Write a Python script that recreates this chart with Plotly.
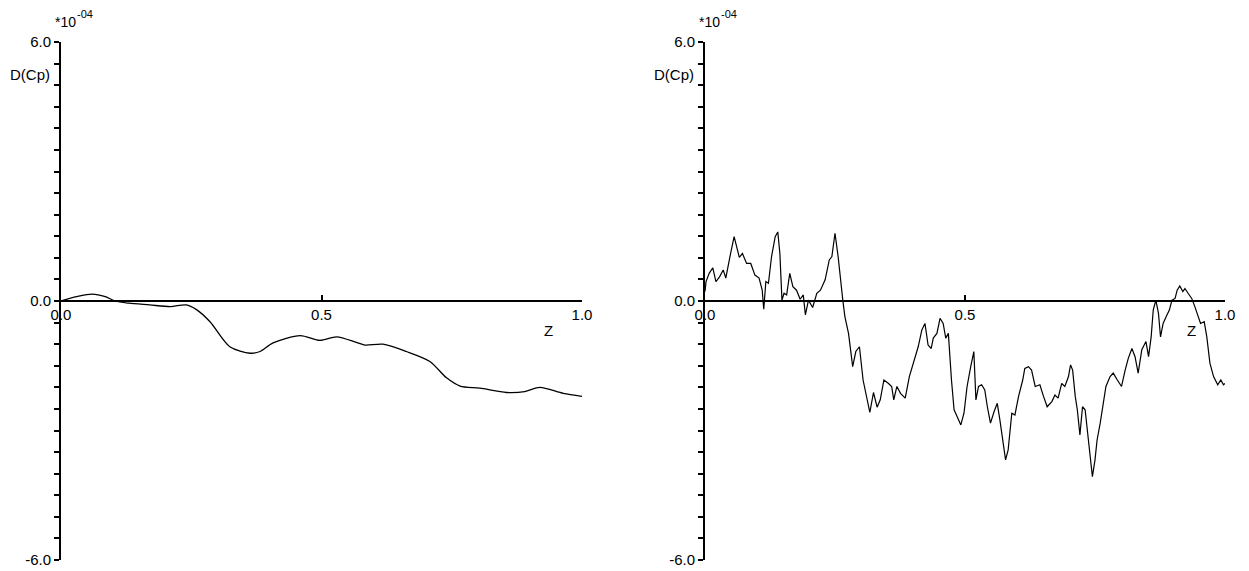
import plotly.graph_objects as go

# ---- data (values in units of 1e-4) ----
Z_LEFT = [0, 0.03, 0.06, 0.085, 0.104, 0.13, 0.17, 0.21, 0.24, 0.26, 0.286, 0.324,
          0.363, 0.382, 0.407, 0.459, 0.497, 0.529, 0.567, 0.583, 0.618, 0.663, 0.708,
          0.74, 0.766, 0.804, 0.855, 0.89, 0.919, 0.964, 1.0]
CP_LEFT = [0, 0.10, 0.16, 0.10, 0.0, -0.05, -0.09, -0.13, -0.09, -0.2, -0.48, -1.06,
           -1.21, -1.17, -0.97, -0.80, -0.91, -0.83, -0.96, -1.02, -1.0, -1.17, -1.40,
           -1.78, -1.97, -2.02, -2.12, -2.1, -2.0, -2.14, -2.21]

Z_RIGHT = [0, 0.002, 0.008, 0.015, 0.021, 0.028, 0.035, 0.040, 0.048, 0.056, 0.066, 0.072,
           0.080, 0.088, 0.096, 0.104, 0.110, 0.113, 0.117, 0.122, 0.128, 0.135, 0.140,
           0.144, 0.148, 0.152, 0.157, 0.163, 0.169, 0.176, 0.183, 0.189, 0.193, 0.199,
           0.207, 0.215, 0.222, 0.231, 0.239, 0.244, 0.250, 0.256, 0.265, 0.269, 0.276,
           0.284, 0.290, 0.297, 0.304, 0.311, 0.317, 0.324, 0.331, 0.337, 0.344, 0.353,
           0.359, 0.363, 0.369, 0.376, 0.385, 0.393, 0.404, 0.410, 0.417, 0.423, 0.429,
           0.435, 0.439, 0.446, 0.452, 0.458, 0.463, 0.468, 0.474, 0.479, 0.485, 0.492,
           0.498, 0.504, 0.511, 0.517, 0.521, 0.526, 0.532, 0.538, 0.543, 0.549, 0.556,
           0.562, 0.567, 0.574, 0.578, 0.583, 0.590, 0.596, 0.603, 0.611, 0.615, 0.622,
           0.628, 0.635, 0.644, 0.651, 0.658, 0.667, 0.673, 0.679, 0.686, 0.692, 0.699,
           0.703, 0.707, 0.712, 0.716, 0.721, 0.726, 0.731, 0.737, 0.741, 0.745, 0.750,
           0.754, 0.760, 0.766, 0.771, 0.779, 0.785, 0.793, 0.801, 0.808, 0.814, 0.821,
           0.827, 0.833, 0.840, 0.848, 0.853, 0.858, 0.862, 0.867, 0.872, 0.876, 0.881,
           0.887, 0.893, 0.898, 0.904, 0.908, 0.913, 0.919, 0.923, 0.929, 0.936, 0.942,
           0.949, 0.953, 0.960, 0.965, 0.971, 0.978, 0.986, 0.992, 0.997, 1.0]
CP_RIGHT = [0.22, 0.45, 0.64, 0.77, 0.45, 0.56, 0.72, 0.53, 1.03, 1.49, 1.01, 1.10,
            0.87, 0.87, 0.60, 0.53, 0.25, -0.19, 0.45, 0.41, 1.03, 1.49, 1.60,
            1.10, 0.02, 0.18, 0.14, 0.64, 0.33, 0.25, 0.04, 0.14, -0.32, 0.02,
            -0.15, 0.18, 0.25, 0.49, 0.95, 1.03, 1.57, 1.03, 0.02, -0.36, -0.75,
            -1.52, -1.17, -1.06, -1.83, -2.21, -2.58, -2.12, -2.46, -2.29, -1.83, -1.91,
            -1.98, -2.29, -1.98, -2.14, -2.25, -1.75, -1.29, -1.06, -0.67, -0.52, -1.02,
            -1.10, -0.86, -0.75, -0.40, -0.52, -0.86, -0.75, -1.83, -2.52, -2.68, -2.87,
            -2.60, -1.98, -1.52, -1.17, -2.29, -1.98, -1.94, -2.06, -2.45, -2.83, -2.56,
            -2.37, -2.75, -3.37, -3.68, -3.45, -2.60, -2.64, -2.21, -1.83, -1.56, -1.52,
            -1.60, -1.98, -1.94, -2.21, -2.45, -2.33, -2.18, -2.25, -1.91, -1.98, -1.75,
            -1.48, -1.60, -2.21, -2.52, -3.10, -2.45, -2.52, -3.22, -3.68, -4.07, -3.68,
            -3.22, -2.83, -2.37, -1.98, -1.75, -1.67, -1.83, -1.98, -1.60, -1.33, -1.10,
            -1.29, -1.67, -1.13, -0.94, -1.29, -0.83, -0.21, 0.02, -0.28, -0.83, -0.52,
            -0.36, -0.21, 0.02, 0.06, 0.25, 0.35, 0.22, 0.29, 0.18, 0.06, -0.13,
            -0.36, -0.52, -0.48, -0.83, -1.44, -1.75, -1.94, -1.83, -1.94, -1.91]

X_TICKS = [0.0, 0.5, 1.0]
X_TICK_TEXT = ["0.0", "0.5", "1.0"]
Y_TICKS = [-6.0, 0.0, 6.0]
Y_TICK_TEXT = ["-6.0", "0.0", "6.0"]
Y_LABEL = "D(Cp)"
X_LABEL = "Z"
SCALE_BASE = "*10"
SCALE_EXP = "-04"

# ---- layout geometry (page pixels; body margin removed by post_script) ----
W, H = 1249, 571
FONT = "Liberation Sans, Arial, sans-serif"

def px(x):
    return x / W

def py(y):
    return (H - y) / H

left_dom = [px(61), px(582)]
right_dom = [px(705), px(1225)]
y_dom = [py(560), py(42)]
y_zero_paper = (y_dom[0] + y_dom[1]) / 2

fig = go.Figure()
fig.add_trace(go.Scatter(x=Z_LEFT, y=CP_LEFT, mode="lines", line=dict(color="black", width=1.3, shape="spline", smoothing=0.8),
                         xaxis="x", yaxis="y", showlegend=False, hoverinfo="skip"))
fig.add_trace(go.Scatter(x=Z_RIGHT, y=CP_RIGHT, mode="lines", line=dict(color="black", width=1.2),
                         xaxis="x2", yaxis="y2", showlegend=False, hoverinfo="skip"))

def xaxis(dom):
    return dict(domain=dom, range=[0, 1], anchor="free", position=y_zero_paper, automargin=False,
                showline=True, linecolor="black", linewidth=2, showgrid=False, zeroline=False,
                tickvals=X_TICKS, ticktext=X_TICK_TEXT, ticks="inside", ticklen=5, tickwidth=1.5,
                tickcolor="black", tickfont=dict(family=FONT, size=15, color="black"),
                ticklabeloverflow="allow", fixedrange=True)

def yaxis(anchor):
    return dict(domain=y_dom, range=[-6, 6], anchor=anchor, automargin=False, showline=True, linecolor="black",
                linewidth=2, showgrid=False, zeroline=False, tickvals=Y_TICKS, ticktext=Y_TICK_TEXT,
                ticks="outside", ticklen=5, tickwidth=1.5, tickcolor="black",
                minor=dict(dtick=0.5, ticks="outside", ticklen=5, tickwidth=1.5, tickcolor="black", showgrid=False),
                tickfont=dict(family=FONT, size=15, color="black"), ticklabeloverflow="allow", fixedrange=True)

fig.update_layout(
    width=W, height=H, margin=dict(l=0, r=0, t=0, b=0, autoexpand=False),
    paper_bgcolor="white", plot_bgcolor="white",
    xaxis=xaxis(left_dom), yaxis=yaxis("x"),
    xaxis2=xaxis(right_dom), yaxis2=yaxis("x2"),
)

annots = []
for xr, yr, off in [("x", "y", 0), ("x2", "y2", 644)]:
    annots.append(dict(text=Y_LABEL, xref="paper", yref="paper", x=px(29.5 + off), y=py(74),
                       showarrow=False, xanchor="center", yanchor="middle",
                       font=dict(family=FONT, size=15, color="black")))
    annots.append(dict(text=SCALE_BASE, xref="paper", yref="paper", x=px(53 + off), y=py(22),
                       showarrow=False, xanchor="left", yanchor="middle",
                       font=dict(family=FONT, size=14, color="black")))
    annots.append(dict(text=SCALE_EXP, xref="paper", yref="paper", x=px(75 + off), y=py(14),
                       showarrow=False, xanchor="left", yanchor="middle",
                       font=dict(family=FONT, size=11, color="black")))
    annots.append(dict(text=X_LABEL, xref=xr, yref=yr, x=0.935, y=-0.69, showarrow=False,
                       xanchor="center", yanchor="middle", font=dict(family=FONT, size=15, color="black")))
fig.update_layout(annotations=annots)

fig.write_html("out.html", config={"displayModeBar": False},
               post_script="document.body.style.margin='0';document.body.style.overflow='hidden';")
